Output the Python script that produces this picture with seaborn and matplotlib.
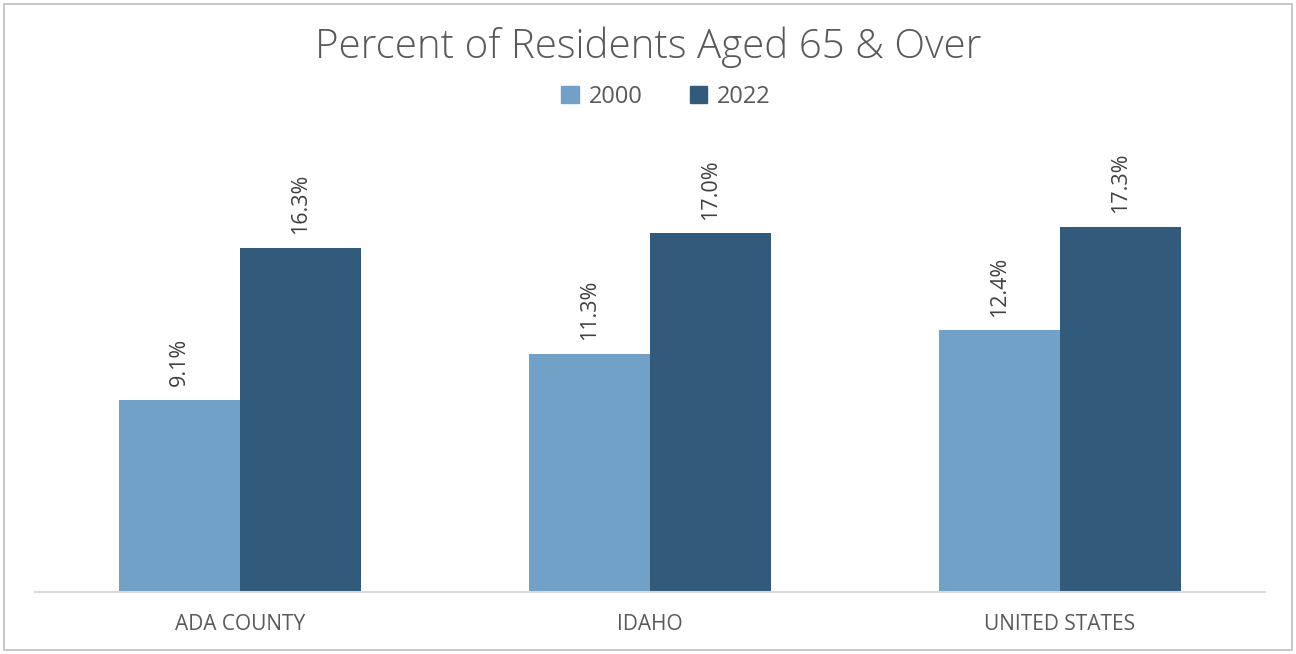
import pandas as pd
import seaborn as sns
import matplotlib.pyplot as plt
from matplotlib.patches import Rectangle

# ------------------------ DATA ------------------------
regions = ["ADA COUNTY", "IDAHO", "UNITED STATES"]
years = ["2000", "2022"]
pct_2000 = [9.1, 11.3, 12.4]
pct_2022 = [16.3, 17.0, 17.3]

colors = ["#71A1C6", "#325A7A"]
grey = "#595959"

df = pd.DataFrame({
    "Region": regions * 2,
    "Year": [years[0]] * 3 + [years[1]] * 3,
    "Pct": pct_2000 + pct_2022,
})

sns.set_style("white")
plt.rcParams["font.family"] = ["Open Sans", "DejaVu Sans"]

fig = plt.figure(figsize=(12.96, 6.54), dpi=100)
ax = fig.add_axes([35 / 1296, 1 - 592 / 654, 1230 / 1296, 422 / 654])

sns.barplot(data=df, x="Region", y="Pct", hue="Year", palette=colors,
            width=0.59, saturation=1, linewidth=0, ax=ax, legend=False)

ax.set_ylim(0, 20)
ax.set_xlim(-0.5, 2.5)

# value labels above each bar, rotated like the original
for cont in ax.containers:
    for bar in cont:
        h = bar.get_height()
        ax.text(bar.get_x() + bar.get_width() / 2, h + 0.65, f"{h:.1f}%",
                rotation=90, ha="center", va="bottom", fontsize=15.5,
                color="#404040", clip_on=False)

ax.set_xlabel("")
ax.set_ylabel("")
ax.set_yticks([])
ax.tick_params(axis="x", length=0, pad=16, labelsize=15, labelcolor=grey)
for side in ["top", "left", "right"]:
    ax.spines[side].set_visible(False)
ax.spines["bottom"].set_color("#D9D9D9")
ax.spines["bottom"].set_linewidth(1.5)

fig.text(0.5, 1 - 47 / 654, "Percent of Residents Aged 65 & Over",
         ha="center", va="center", fontsize=29, color=grey, fontweight="light")

handles = [Rectangle((0, 0), 1, 1, color=c) for c in colors]
fig.legend(handles, years, loc="center", bbox_to_anchor=(666 / 1296, 1 - 97 / 654),
           ncol=2, frameon=False, fontsize=17, labelcolor=grey,
           handlelength=0.75, handleheight=0.75, columnspacing=2.0, handletextpad=0.4)

# outer chart border
fig.patches.append(Rectangle((4 / 1296, 4 / 654), 1 - 8 / 1296, 1 - 8 / 654,
                             transform=fig.transFigure, fill=False,
                             edgecolor="#BFBFBF", linewidth=1.2))

fig.savefig("out.png", dpi=100)
